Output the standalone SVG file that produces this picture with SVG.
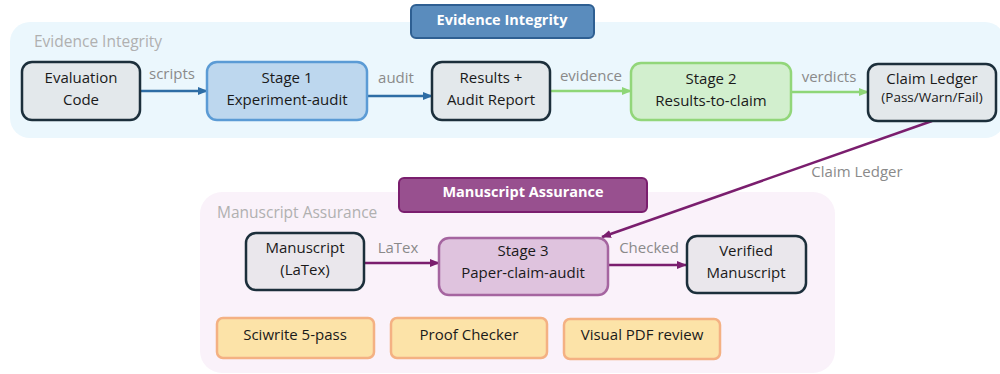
<svg xmlns="http://www.w3.org/2000/svg" width="1000" height="374" viewBox="0 0 1000 374">
<defs>
<marker id="aBlue" markerUnits="userSpaceOnUse" markerWidth="10" markerHeight="10" viewBox="0 0 10 10" refX="9" refY="5" orient="auto"><path d="M0,1 L10,5 L0,9 Z" fill="#2E6DA5"/></marker>
<marker id="aGreen" markerUnits="userSpaceOnUse" markerWidth="10" markerHeight="10" viewBox="0 0 10 10" refX="9" refY="5" orient="auto"><path d="M0,1 L10,5 L0,9 Z" fill="#8ED677"/></marker>
<marker id="aPurple" markerUnits="userSpaceOnUse" markerWidth="10" markerHeight="10" viewBox="0 0 10 10" refX="9" refY="5" orient="auto"><path d="M0,1 L10,5 L0,9 Z" fill="#7A1E6E"/></marker>
</defs>
<style>
text{font-family:"Open Sans","Noto Sans",sans-serif;}
.t{font-size:15px;fill:#1a1a1a;text-anchor:middle;}
.s{font-size:13.5px;fill:#1a1a1a;text-anchor:middle;}
.lbl{font-size:15px;fill:#8a8a8a;text-anchor:middle;}
.glbl{font-size:15.5px;fill:#b0b0b0;}
.title{font-size:14.5px;font-weight:bold;fill:#ffffff;text-anchor:middle;}
.dark{fill:#E3E8EB;stroke:#1C2F3B;stroke-width:2.5;}
.darkp{fill:#EAE7EC;stroke:#1C2F3B;stroke-width:2.5;}
.st1{fill:#BDD7EE;stroke:#5B9BD5;stroke-width:2.5;}
.st2{fill:#D2EFCE;stroke:#92D67A;stroke-width:2.5;}
.st3{fill:#DFC3DE;stroke:#A565A0;stroke-width:2.5;}
.org{fill:#FCE3A8;stroke:#F4B183;stroke-width:2.5;}
.cb{stroke:#2E6DA5;stroke-width:2.5;fill:none;marker-end:url(#aBlue);}
.cg{stroke:#8ED677;stroke-width:2.5;fill:none;marker-end:url(#aGreen);}
.cp{stroke:#7A1E6E;stroke-width:2.5;fill:none;marker-end:url(#aPurple);}
</style>

<g id="band-evidence">
<rect x="10" y="22" width="995" height="116" rx="20" fill="#EBF7FD"/>
<text class="glbl" x="34" y="47">Evidence Integrity</text>
</g>
<g id="title-evidence">
<rect x="411" y="5" width="183" height="33" rx="5" fill="#5A8CBD" stroke="#2E5F92" stroke-width="2"/>
<text class="title" x="502" y="25">Evidence Integrity</text>
</g>

<g id="band-manuscript">
<rect x="200" y="192" width="635" height="181" rx="22" fill="#FAF2FA"/>
<text class="glbl" x="217" y="218">Manuscript Assurance</text>
</g>
<g id="title-manuscript">
<rect x="399" y="178" width="248" height="34" rx="5" fill="#98508F" stroke="#7A1E6E" stroke-width="2"/>
<text class="title" x="523" y="197">Manuscript Assurance</text>
</g>

<g id="connectors">
<line class="cb" x1="140" y1="91" x2="207" y2="91"/>
<text class="lbl" x="172" y="79">scripts</text>
<line class="cb" x1="367" y1="96" x2="432" y2="96"/>
<text class="lbl" x="396" y="83">audit</text>
<line class="cg" x1="550" y1="91" x2="631" y2="91"/>
<text class="lbl" x="591" y="81">evidence</text>
<line class="cg" x1="791" y1="92" x2="868" y2="92"/>
<text class="lbl" x="829" y="82">verdicts</text>
<line class="cp" x1="932" y1="121" x2="602" y2="237"/>
<text class="lbl" x="857" y="177">Claim Ledger</text>
<line class="cp" x1="364" y1="263" x2="439" y2="263"/>
<text class="lbl" x="398" y="253">LaTex</text>
<line class="cp" x1="608" y1="265" x2="686" y2="265"/>
<text class="lbl" x="649" y="253">Checked</text>
</g>

<g id="evaluation-code">
<rect class="dark" x="22" y="62" width="118" height="58" rx="10"/>
<text class="t" x="81" y="83">Evaluation</text>
<text class="t" x="81" y="105">Code</text>
</g>
<g id="stage1">
<rect class="st1" x="207" y="62" width="160" height="58" rx="10"/>
<text class="t" x="287" y="83">Stage 1</text>
<text class="t" x="287" y="105">Experiment-audit</text>
</g>
<g id="results-audit">
<rect class="dark" x="432" y="62" width="118" height="58" rx="10"/>
<text class="t" x="491" y="83">Results +</text>
<text class="t" x="491" y="105">Audit Report</text>
</g>
<g id="stage2">
<rect class="st2" x="631" y="63" width="160" height="57" rx="10"/>
<text class="t" x="711" y="84">Stage 2</text>
<text class="t" x="711" y="106">Results-to-claim</text>
</g>
<g id="claim-ledger">
<rect class="dark" x="868" y="64" width="128" height="57" rx="10"/>
<text class="t" x="932" y="84">Claim Ledger</text>
<text class="s" x="932" y="102">(Pass/Warn/Fail)</text>
</g>

<g id="manuscript">
<rect class="darkp" x="246" y="233" width="118" height="57" rx="10"/>
<text class="t" x="305" y="253">Manuscript</text>
<text class="t" x="305" y="275">(LaTex)</text>
</g>
<g id="stage3">
<rect class="st3" x="439" y="238" width="169" height="57" rx="10"/>
<text class="t" x="523" y="256">Stage 3</text>
<text class="t" x="523" y="278">Paper-claim-audit</text>
</g>
<g id="verified-manuscript">
<rect class="darkp" x="687" y="236" width="119" height="57" rx="10"/>
<text class="t" x="746" y="256">Verified</text>
<text class="t" x="746" y="278">Manuscript</text>
</g>

<g id="sciwrite">
<rect class="org" x="217" y="318" width="157" height="40" rx="6"/>
<text class="t" x="295" y="340">Sciwrite 5-pass</text>
</g>
<g id="proof-checker">
<rect class="org" x="391" y="318" width="156" height="40" rx="6"/>
<text class="t" x="469" y="340">Proof Checker</text>
</g>
<g id="visual-pdf">
<rect class="org" x="564" y="319" width="156" height="40" rx="6"/>
<text class="t" x="642" y="340">Visual PDF review</text>
</g>
</svg>
